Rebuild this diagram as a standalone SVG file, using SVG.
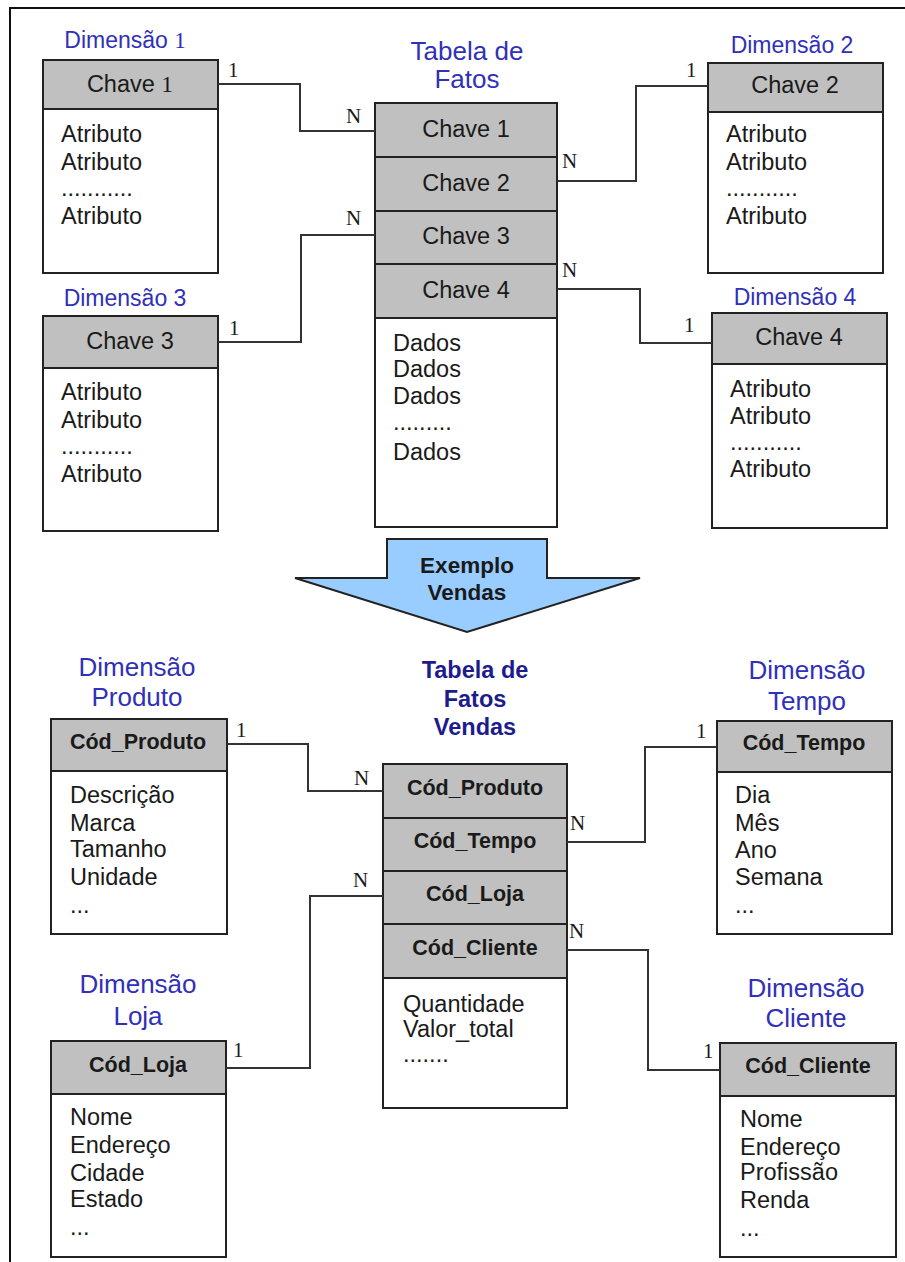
<svg xmlns="http://www.w3.org/2000/svg" width="905" height="1262" viewBox="0 0 905 1262">
  <style>
    .frame { stroke: #111; stroke-width: 2; fill: none; }
    .body { fill: #ffffff; stroke: #222; stroke-width: 2; }
    .head { fill: #c0c0c0; stroke: #222; stroke-width: 2; }
    .link { fill: none; stroke: #333; stroke-width: 2; }
    .t { font-family: "Liberation Sans", Arial, sans-serif; font-size: 23.5px; fill: #1a1a1a; }
    .c { text-anchor: middle; }
    .b { font-weight: bold; font-size: 21.5px; }
    .title { font-family: "Liberation Sans", Arial, sans-serif; font-size: 23px; fill: #3030b8; text-anchor: middle; }
    .title2 { font-family: "Liberation Sans", Arial, sans-serif; font-size: 26px; fill: #3030b8; text-anchor: middle; }
    .titleb { font-family: "Liberation Sans", Arial, sans-serif; font-size: 23.5px; font-weight: bold; fill: #1c1c8c; text-anchor: middle; }
    .card { font-family: "Liberation Serif", "Times New Roman", serif; font-size: 21px; fill: #1a1a1a; }
    .serif1 { font-family: "Liberation Serif", "Times New Roman", serif; }
  </style>

  <!-- page frame -->
  <path class="frame" d="M10,1262 V8 H905"/>

  <!-- ===== generic star schema ===== -->
  <g id="dim1">
    <text class="title" x="125" y="48">Dimensão <tspan class="serif1">1</tspan></text>
    <rect class="body" x="43" y="60" width="175" height="213"/>
    <rect class="head" x="43" y="60" width="175" height="49"/>
    <text class="t c" x="130" y="92">Chave <tspan class="serif1">1</tspan></text>
    <text class="t" x="61" y="142">Atributo</text>
    <text class="t" x="61" y="170">Atributo</text>
    <text class="t" x="61" y="196">...........</text>
    <text class="t" x="61" y="224">Atributo</text>
  </g>

  <g id="fatos">
    <text class="title2" x="467" y="60">Tabela de</text>
    <text class="title2" x="467" y="88">Fatos</text>
    <rect class="body" x="375" y="103" width="182" height="424"/>
    <rect class="head" x="375" y="103" width="182" height="54"/>
    <rect class="head" x="375" y="157" width="182" height="54"/>
    <rect class="head" x="375" y="211" width="182" height="53"/>
    <rect class="head" x="375" y="264" width="182" height="54"/>
    <text class="t c" x="466" y="137">Chave 1</text>
    <text class="t c" x="466" y="191">Chave 2</text>
    <text class="t c" x="466" y="244">Chave 3</text>
    <text class="t c" x="466" y="298">Chave 4</text>
    <text class="t" x="393" y="351">Dados</text>
    <text class="t" x="393" y="377">Dados</text>
    <text class="t" x="393" y="404">Dados</text>
    <text class="t" x="393" y="430">.........</text>
    <text class="t" x="393" y="460">Dados</text>
  </g>

  <g id="dim2">
    <text class="title" x="792" y="53">Dimensão 2</text>
    <rect class="body" x="708" y="63" width="175" height="210"/>
    <rect class="head" x="708" y="63" width="175" height="49"/>
    <text class="t c" x="795" y="93">Chave 2</text>
    <text class="t" x="726" y="142">Atributo</text>
    <text class="t" x="726" y="170">Atributo</text>
    <text class="t" x="726" y="196">...........</text>
    <text class="t" x="726" y="224">Atributo</text>
  </g>

  <g id="dim3">
    <text class="title" x="125" y="306">Dimensão 3</text>
    <rect class="body" x="43" y="316" width="175" height="215"/>
    <rect class="head" x="43" y="316" width="175" height="52"/>
    <text class="t c" x="130" y="349">Chave 3</text>
    <text class="t" x="61" y="400">Atributo</text>
    <text class="t" x="61" y="428">Atributo</text>
    <text class="t" x="61" y="454">...........</text>
    <text class="t" x="61" y="482">Atributo</text>
  </g>

  <g id="dim4">
    <text class="title" x="795" y="305">Dimensão 4</text>
    <rect class="body" x="712" y="313" width="175" height="215"/>
    <rect class="head" x="712" y="313" width="175" height="51"/>
    <text class="t c" x="799" y="345">Chave 4</text>
    <text class="t" x="730" y="397">Atributo</text>
    <text class="t" x="730" y="424">Atributo</text>
    <text class="t" x="730" y="450">...........</text>
    <text class="t" x="730" y="477">Atributo</text>
  </g>

  <!-- transition arrow -->
  <g id="exemplo">
    <polygon points="387,539 547,539 547,578 640,578 467,632 295,578 387,578" fill="#99ccff" stroke="#222" stroke-width="2" stroke-linejoin="miter"/>
    <text class="t c" x="467" y="573" style="font-weight:bold;font-size:22.5px">Exemplo</text>
    <text class="t c" x="467" y="600" style="font-weight:bold;font-size:22.5px">Vendas</text>
  </g>

  <!-- ===== sales example ===== -->
  <g id="dim-produto">
    <text class="title2" x="137" y="676">Dimensão</text>
    <text class="title2" x="137" y="706">Produto</text>
    <rect class="body" x="51" y="719" width="176" height="215"/>
    <rect class="head" x="51" y="719" width="176" height="52"/>
    <text class="t c b" x="138" y="749">Cód_Produto</text>
    <text class="t" x="70" y="803">Descrição</text>
    <text class="t" x="70" y="831">Marca</text>
    <text class="t" x="70" y="857">Tamanho</text>
    <text class="t" x="70" y="885">Unidade</text>
    <text class="t" x="70" y="913">...</text>
  </g>

  <g id="fatos-vendas">
    <text class="titleb" x="475" y="678">Tabela de</text>
    <text class="titleb" x="475" y="707">Fatos</text>
    <text class="titleb" x="475" y="735">Vendas</text>
    <rect class="body" x="383" y="764" width="184" height="344"/>
    <rect class="head" x="383" y="764" width="184" height="54"/>
    <rect class="head" x="383" y="818" width="184" height="53"/>
    <rect class="head" x="383" y="871" width="184" height="53"/>
    <rect class="head" x="383" y="924" width="184" height="54"/>
    <text class="t c b" x="475" y="795">Cód_Produto</text>
    <text class="t c b" x="475" y="848">Cód_Tempo</text>
    <text class="t c b" x="475" y="901">Cód_Loja</text>
    <text class="t c b" x="475" y="955">Cód_Cliente</text>
    <text class="t" x="403" y="1012">Quantidade</text>
    <text class="t" x="403" y="1037">Valor_total</text>
    <text class="t" x="403" y="1062">.......</text>
  </g>

  <g id="dim-tempo">
    <text class="title2" x="807" y="679">Dimensão</text>
    <text class="title2" x="807" y="710">Tempo</text>
    <rect class="body" x="717" y="721" width="175" height="213"/>
    <rect class="head" x="717" y="721" width="175" height="51"/>
    <text class="t c b" x="804" y="750">Cód_Tempo</text>
    <text class="t" x="735" y="803">Dia</text>
    <text class="t" x="735" y="831">Mês</text>
    <text class="t" x="735" y="858">Ano</text>
    <text class="t" x="735" y="885">Semana</text>
    <text class="t" x="735" y="913">...</text>
  </g>

  <g id="dim-loja">
    <text class="title2" x="138" y="993">Dimensão</text>
    <text class="title2" x="138" y="1025">Loja</text>
    <rect class="body" x="51" y="1041" width="175" height="216"/>
    <rect class="head" x="51" y="1041" width="175" height="53"/>
    <text class="t c b" x="138" y="1072">Cód_Loja</text>
    <text class="t" x="70" y="1125">Nome</text>
    <text class="t" x="70" y="1153">Endereço</text>
    <text class="t" x="70" y="1181">Cidade</text>
    <text class="t" x="70" y="1207">Estado</text>
    <text class="t" x="70" y="1235">...</text>
  </g>

  <g id="dim-cliente">
    <text class="title2" x="806" y="997">Dimensão</text>
    <text class="title2" x="806" y="1027">Cliente</text>
    <rect class="body" x="720" y="1043" width="176" height="214"/>
    <rect class="head" x="720" y="1043" width="176" height="53"/>
    <text class="t c b" x="808" y="1073">Cód_Cliente</text>
    <text class="t" x="740" y="1127">Nome</text>
    <text class="t" x="740" y="1155">Endereço</text>
    <text class="t" x="740" y="1180">Profissão</text>
    <text class="t" x="740" y="1208">Renda</text>
    <text class="t" x="740" y="1236">...</text>
  </g>

  <!-- relationship lines with cardinalities -->
  <g id="connectors">
    <path class="link" d="M218,84 H300 V131 H375"/>
    <path class="link" d="M557,181 H636 V86 H708"/>
    <path class="link" d="M375,235 H301 V342 H218"/>
    <path class="link" d="M557,289 H640 V343 H712"/>

    <path class="link" d="M227,744 H308 V791 H383"/>
    <path class="link" d="M567,842 H645 V747 H717"/>
    <path class="link" d="M383,896 H310 V1068 H226"/>
    <path class="link" d="M567,950 H648 V1070 H720"/>

    <text class="card" x="228" y="77">1</text>
    <text class="card" x="346" y="123">N</text>
    <text class="card" x="562" y="168">N</text>
    <text class="card" x="686" y="77">1</text>
    <text class="card" x="346" y="225">N</text>
    <text class="card" x="229" y="335">1</text>
    <text class="card" x="562" y="277">N</text>
    <text class="card" x="684" y="332">1</text>

    <text class="card" x="236" y="737">1</text>
    <text class="card" x="354" y="785">N</text>
    <text class="card" x="570" y="830">N</text>
    <text class="card" x="696" y="738">1</text>
    <text class="card" x="353" y="887">N</text>
    <text class="card" x="233" y="1057">1</text>
    <text class="card" x="569" y="938">N</text>
    <text class="card" x="703" y="1058">1</text>
  </g>
</svg>
